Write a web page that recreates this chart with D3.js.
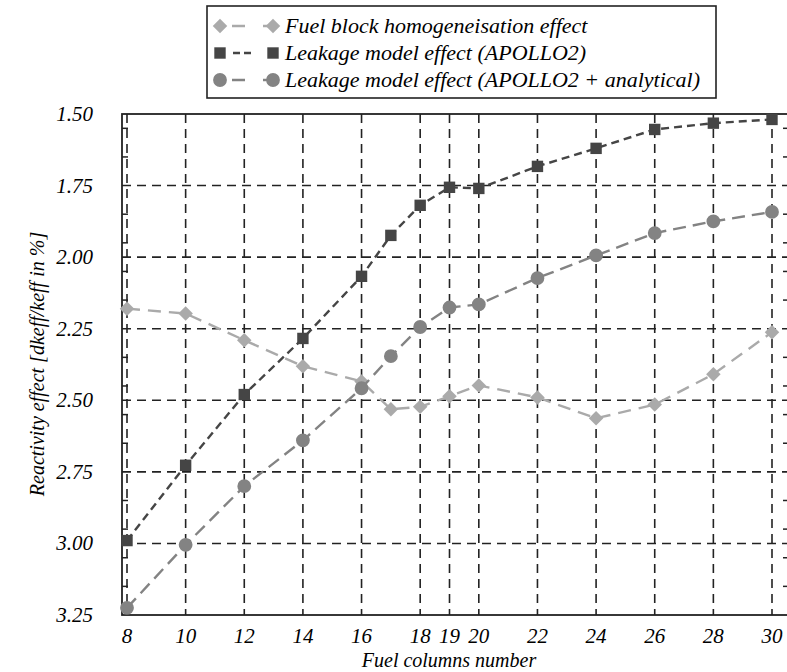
<!DOCTYPE html>
<html>
<head>
<script src="https://cdn.jsdelivr.net/npm/d3@7"></script>
</head>
<body style="margin:0">
<script>
const columns = [8, 10, 12, 14, 16, 17, 18, 19, 20, 22, 24, 26, 28, 30];
const xTicks = [8, 10, 12, 14, 16, 18, 19, 20, 22, 24, 26, 28, 30];
const yTicks = [1.5, 1.75, 2.0, 2.25, 2.5, 2.75, 3.0, 3.25];
const minorTicks = [1.55, 1.65, 1.85, 1.95, 2.05, 2.15, 2.35, 2.45, 2.55, 2.65, 2.85, 2.95, 3.05, 3.15];

const homogeneisation = [2.18, 2.197, 2.29, 2.381, 2.434, 2.531, 2.523, 2.486, 2.448, 2.49, 2.563, 2.515, 2.409, 2.262];
const apollo2 = [2.99, 2.727, 2.48, 2.284, 2.067, 1.924, 1.819, 1.756, 1.76, 1.683, 1.62, 1.554, 1.532, 1.519];
const analytical = [3.225, 3.005, 2.80, 2.64, 2.458, 2.346, 2.244, 2.176, 2.165, 2.073, 1.994, 1.916, 1.875, 1.842];

const seriesNames = [
    "Fuel block homogeneisation effect",
    "Leakage model effect (APOLLO2)",
    "Leakage model effect (APOLLO2 + analytical)"
];

const width = 787,
    height = 672;
const SERIF = '"Liberation Serif", Tinos, FreeSerif, "Times New Roman", Times, serif';

const svg = d3.select('body').append('svg')
    .attr('width', width)
    .attr('height', height);

//scales
const x = d3.scaleLinear().domain([8, 30]).range([127, 772]);
const y = d3.scaleLinear().domain([1.5, 3.25]).range([114, 615]);
const left = 122,
    right = 789;

//tick labels (font set before the text, like the font test page)
svg.selectAll('text.ylab')
    .data(yTicks)
    .enter()
    .append('text')
    .style('font-family', SERIF)
    .style('font-style', 'italic')
    .style('font-size', '21px')
    .attr('x', 93)
    .attr('y', d => y(d) + 7)
    .attr('text-anchor', 'end')
    .text(d => d3.format('.2f')(d));

svg.selectAll('text.xlab')
    .data(xTicks)
    .enter()
    .append('text')
    .style('font-family', SERIF)
    .style('font-style', 'italic')
    .style('font-size', '21px')
    .attr('x', d => x(d))
    .attr('y', 643)
    .attr('text-anchor', 'middle')
    .text(d => d);

//axis titles
svg.append('text')
    .style('font-family', SERIF)
    .style('font-style', 'italic')
    .style('font-size', '20px')
    .attr('x', 449)
    .attr('y', 667)
    .attr('text-anchor', 'middle')
    .text('Fuel columns number');

svg.append('text')
    .style('font-family', SERIF)
    .style('font-style', 'italic')
    .style('font-size', '20px')
    .attr('transform', 'translate(44,364) rotate(-90)')
    .attr('text-anchor', 'middle')
    .text('Reactivity effect [dkeff/keff in %]');

//grid
const grid = svg.append('g')
    .attr('stroke', '#222')
    .attr('stroke-width', 1.6)
    .attr('stroke-dasharray', '9,6');

grid.selectAll('line.v')
    .data(xTicks)
    .enter()
    .append('line')
    .attr('x1', d => x(d)).attr('x2', d => x(d))
    .attr('y1', y(1.5)).attr('y2', y(3.25));

grid.selectAll('line.h')
    .data(yTicks.slice(1, -1))
    .enter()
    .append('line')
    .attr('x1', left).attr('x2', right)
    .attr('y1', d => y(d)).attr('y2', d => y(d));

//minor ticks on both sides
const ticks = svg.append('g').attr('stroke', '#222').attr('stroke-width', 1.5);
ticks.selectAll('line.l')
    .data(minorTicks)
    .enter()
    .append('line')
    .attr('x1', left).attr('x2', left + 6)
    .attr('y1', d => y(d)).attr('y2', d => y(d));
ticks.selectAll('line.r')
    .data(minorTicks)
    .enter()
    .append('line')
    .attr('x1', right - 6).attr('x2', right)
    .attr('y1', d => y(d)).attr('y2', d => y(d));

//frame
svg.append('rect')
    .attr('x', left).attr('y', y(1.5))
    .attr('width', right - left).attr('height', y(3.25) - y(1.5))
    .attr('fill', 'none')
    .attr('stroke', '#222')
    .attr('stroke-width', 1.8);

//series styles
const styles = [
    { values: homogeneisation, color: '#aaaaaa', dash: '13,8', marker: 'diamond', size: 105 },
    { values: apollo2, color: '#454545', dash: '8,5', marker: 'square', size: 130 },
    { values: analytical, color: '#838383', dash: '13,7', marker: 'circle', size: 150 }
];

//diamond = square turned 45 degrees
const symbolType = {
    diamond: d3.symbolSquare,
    square: d3.symbolSquare,
    circle: d3.symbolCircle
};
const rot = m => m === 'diamond' ? ' rotate(45)' : '';

const line = d3.line()
    .x((d, i) => x(columns[i]))
    .y(d => y(d));

styles.forEach(s => {
    svg.append('path')
        .datum(s.values)
        .attr('d', line)
        .attr('fill', 'none')
        .attr('stroke', s.color)
        .attr('stroke-width', 2.4)
        .attr('stroke-dasharray', s.dash);

    svg.selectAll(null)
        .data(s.values)
        .enter()
        .append('path')
        .attr('d', d3.symbol().type(symbolType[s.marker]).size(s.size))
        .attr('transform', (d, i) => `translate(${x(columns[i])},${y(d)})` + rot(s.marker))
        .attr('fill', s.color);
});

//legend
const legend = svg.append('g');
legend.append('rect')
    .attr('x', 207).attr('y', 6)
    .attr('width', 509).attr('height', 92)
    .attr('fill', '#fff')
    .attr('stroke', '#222')
    .attr('stroke-width', 1.6);

styles.forEach((s, i) => {
    const ly = 26 + i * 27;
    legend.append('line')
        .attr('x1', 220).attr('x2', 273)
        .attr('y1', ly).attr('y2', ly)
        .attr('stroke', s.color)
        .attr('stroke-width', 2.4)
        .attr('stroke-dasharray', i === 1 ? '0,13,7,4,7,4' : '0,12,13,6');
    [220, 273].forEach(mx => {
        legend.append('path')
            .attr('d', d3.symbol().type(symbolType[s.marker]).size(s.size))
            .attr('transform', `translate(${mx},${ly})` + rot(s.marker))
            .attr('fill', s.color);
    });
    legend.append('text')
        .style('font-family', SERIF)
        .style('font-style', 'italic')
        .style('font-size', '22px')
        .attr('x', 285)
        .attr('y', ly + 7)
        .text(seriesNames[i]);
});
</script>
</body>
</html>
